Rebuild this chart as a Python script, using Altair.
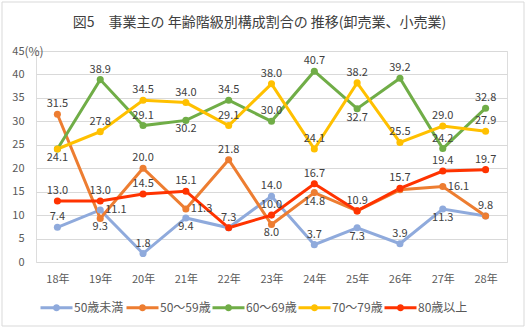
import altair as alt
import pandas as pd

years = ["18年", "19年", "20年", "21年", "22年", "23年", "24年", "25年", "26年", "27年", "28年"]
series = ["50歳未満", "50～59歳", "60～69歳", "70～79歳", "80歳以上"]
colors = ["#8FAADC", "#ED7D31", "#70AD47", "#FFC000", "#FF3300"]

v_u50 = [7.4, 11.1, 1.8, 9.4, 7.3, 14.0, 3.7, 7.3, 3.9, 11.3, 9.8]
v_50s = [31.5, 9.3, 20.0, 11.3, 21.8, 8.0, 14.8, 10.9, 15.4, 16.1, 9.8]
v_60s = [24.1, 38.9, 29.1, 30.2, 34.5, 30.0, 40.7, 32.7, 39.2, 24.2, 32.8]
v_70s = [24.1, 27.8, 34.5, 34.0, 29.1, 38.0, 24.1, 38.2, 25.5, 29.0, 27.9]
v_80p = [13.0, 13.0, 14.5, 15.1, 7.3, 10.0, 16.7, 10.9, 15.7, 19.4, 19.7]

# data label placement: a = above, b = below, r = right, n = hidden
p_u50 = list("arabaaababa")
p_50s = list("abarabbnnrn")
p_60s = list("naabaaabaaa")
p_70s = list("baaaaaaaaaa")
p_80p = list("aaaanaaaaaa")

values = [v_u50, v_50s, v_60s, v_70s, v_80p]
places = [p_u50, p_50s, p_60s, p_70s, p_80p]

rows = []
for s, vals, pls in zip(series, values, places):
    for y, v, p in zip(years, vals, pls):
        rows.append({"series": s, "year": y, "value": v, "pos": p, "lbl": f"{v:.1f}"})
df = pd.DataFrame(rows)

FONT = "Noto Sans CJK JP"

xenc = alt.X("year:N", sort=years, scale=alt.Scale(type="point", padding=0.5),
             axis=alt.Axis(title=None, labelAngle=0, ticks=False, domain=False, grid=False,
                           labelPadding=11, labelFontSize=11, labelColor="#595959", labelFont=FONT))
yenc = alt.Y("value:Q", scale=alt.Scale(domain=[0, 45]),
             axis=alt.Axis(values=list(range(0, 50, 5)), title="(%)", titleAngle=0, titleX=-12, titleY=0,
                           titleAlign="left", titleBaseline="middle", titleFontWeight="normal",
                           titleFontSize=12, titleColor="#595959", titleFont=FONT,
                           ticks=False, domain=False, labelPadding=12, labelFontSize=11,
                           labelColor="#595959", labelFont=FONT, gridColor="#D9D9D9"))

base = alt.Chart(df)

sym_path = "M -1 0 L 1 0 M -0.13 0 A 0.13 0.13 0 1 1 0.13 0 A 0.13 0.13 0 1 1 -0.13 0 Z"
leg = alt.Legend(title=None, orient="none", legendX=3, legendY=239, direction="horizontal",
                 columns=5, gridAlign="all", labelFontSize=12, labelColor="#595959",
                 labelFont=FONT, padding=0, symbolOpacity=1,
                 symbolType=sym_path, symbolSize=1024, symbolStrokeWidth=3,
                 labelOffset=0, columnPadding=-5.5)

lines = base.mark_line(strokeWidth=3).encode(
    x=xenc, y=yenc,
    color=alt.Color("series:N", scale=alt.Scale(domain=series, range=colors), sort=series, legend=leg),
    detail="series:N",
)

points = base.mark_point(filled=True, size=50, opacity=1).encode(
    x=xenc, y=yenc,
    fill=alt.Fill("series:N", scale=alt.Scale(domain=series, range=colors), sort=series, legend=leg),
)

lab_kw = dict(font=FONT, fontSize=11, color="#404040")
above = base.transform_filter(alt.datum.pos == "a").mark_text(baseline="middle", dy=-10, **lab_kw).encode(
    x=xenc, y=yenc, text="lbl:N")
below = base.transform_filter(alt.datum.pos == "b").mark_text(baseline="middle", dy=9, **lab_kw).encode(
    x=xenc, y=yenc, text="lbl:N")
right = base.transform_filter(alt.datum.pos == "r").mark_text(baseline="middle", align="left", dx=5, **lab_kw).encode(
    x=xenc, y=yenc, text="lbl:N")

frame = alt.Chart(alt.Data(values=[{}])).mark_rect(fill="transparent", stroke="#D9D9D9", strokeWidth=1).encode(
    x=alt.value(-34), x2=alt.value(488), y=alt.value(-49), y2=alt.value(275))

chart = alt.layer(frame, lines, points, above, below, right).properties(
    width=471, height=211,
    padding={"left": 36, "top": 51, "right": 21, "bottom": 69},
    autosize=alt.AutoSizeParams(type="none"),
    title=alt.TitleParams("図5　事業主の 年齢階級別構成割合の 推移(卸売業、小売業)", font=FONT, fontSize=14,
                          fontWeight="normal", color="#404040", anchor="middle", dx=-12, offset=-28),
).configure_view(stroke=None).configure(background="white")

chart.save("out.html", embed_options={"renderer": "svg", "actions": False})
